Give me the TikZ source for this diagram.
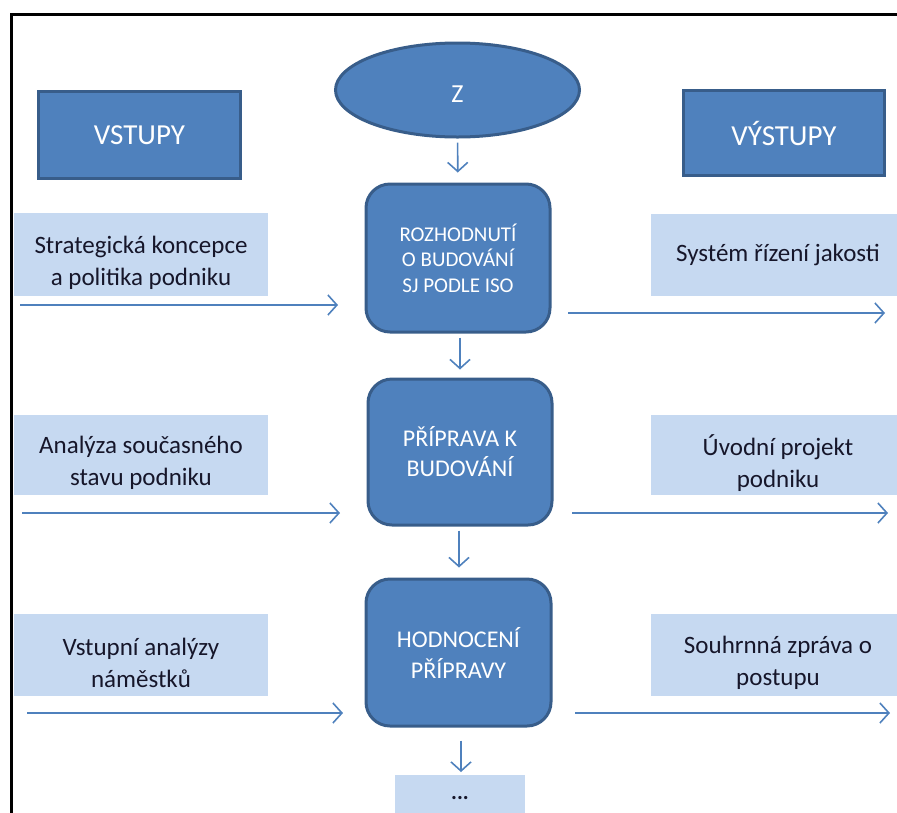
\documentclass[tikz,border=0pt]{standalone}
\usepackage{fontspec}
\setmainfont{Carlito}
\usetikzlibrary{shapes.geometric,arrows.meta}
\definecolor{accent}{HTML}{4F81BD}
\definecolor{accentdark}{HTML}{385D8A}
\definecolor{pale}{HTML}{C6D9F1}
\definecolor{ink}{HTML}{16162A}
\tikzset{
  darkbox/.style={draw=accentdark, line width=3pt, fill=accent, text=white,
    align=center, inner sep=0pt},
  headbox/.style={darkbox, rectangle, font=\fontsize{29}{33}\selectfont},
  stagebox/.style={darkbox, rectangle, rounded corners=24pt},
  palebox/.style={fill=pale, draw=none, text=ink, align=center, inner sep=0pt,
    font=\fontsize{25}{32}\selectfont},
  paletext/.style={text=ink, align=center, inner sep=0pt,
    font=\fontsize{25}{32}\selectfont, yshift=-8pt},
  flow/.style={draw=accent, line width=1.6pt,
    -{Straight Barb[length=9pt,width=20pt,line width=1.6pt]}},
}
\begin{document}
\begin{tikzpicture}[x=1pt,y=-1pt]
\useasboundingbox (0,0) rectangle (897,812);

% outer frame (only its left and top edges fall inside the page)
\coordinate (frameBL) at (11,830);
\coordinate (frameTL) at (11,14);
\coordinate (frameTR) at (910,14);
\draw[black, line width=3pt] (frameBL) -- (frameTL) -- (frameTR);

% headings and start
\node[darkbox, ellipse, minimum width=244pt, minimum height=94pt,
  label={[text=white, inner sep=0pt, font=\fontsize{26}{30}\selectfont,
    yshift=-4pt]center:Z}] (z) at (457.5,90) {};
\node[headbox, minimum width=202pt, minimum height=87pt] (vstupy) at (139.5,135) {VSTUPY};
\node[headbox, minimum width=201pt, minimum height=85pt] (vystupy) at (784,133) {VÝSTUPY};

% process stages
\node[stagebox, minimum width=184pt, minimum height=148pt,
  font=\fontsize{21}{25.5}\selectfont] (s1) at (458,258)
  {ROZHODNUTÍ\\O BUDOVÁNÍ\\SJ PODLE ISO};
\node[stagebox, minimum width=184pt, minimum height=146pt,
  font=\fontsize{24}{30}\selectfont] (s2) at (460,452)
  {PŘÍPRAVA K\\BUDOVÁNÍ};
\node[stagebox, minimum width=185pt, minimum height=147pt,
  font=\fontsize{24}{31}\selectfont] (s3) at (458.5,652.5)
  {HODNOCENÍ\\PŘÍPRAVY};
\node[palebox, minimum width=130pt, minimum height=60pt, anchor=north,
  label={[text=ink, inner sep=0pt, font=\fontsize{22}{24}\selectfont\bfseries,
    yshift=7pt]center:...}] (s4) at (460,775) {};

% inputs
\node[palebox, minimum width=254pt, minimum height=83pt,
  label={[paletext]center:Strategická koncepce\\a politika podniku}] (in1) at (141,254.5) {};
\node[palebox, minimum width=254pt, minimum height=80pt,
  label={[paletext]center:Analýza současného\\stavu podniku}] (in2) at (141,455) {};
\node[palebox, minimum width=254pt, minimum height=82pt,
  label={[paletext]center:Vstupní analýzy\\náměstků}] (in3) at (141,655) {};

% outputs
\node[palebox, minimum width=254pt, minimum height=82pt] (out1) at (778,255)
  {Systém řízení jakosti};
\node[palebox, minimum width=254pt, minimum height=80pt,
  label={[paletext]center:Úvodní projekt\\podniku}] (out2) at (778,455) {};
\node[palebox, minimum width=254pt, minimum height=82pt,
  label={[paletext]center:Souhrnná zpráva o\\postupu}] (out3) at (778,655) {};

% main flow
\draw[flow, shorten <=4pt, shorten >=10pt] (z) -- (s1);
\draw[flow, shorten <=4pt, shorten >=8pt] (s1.south -| 460,0) -- (s2.north);
\draw[flow, shorten <=4pt, shorten >=10pt] (s2.south -| 459,0) -- (s3.north -| 459,0);
\draw[flow, shorten <=13pt, shorten >=3pt] (s3.south -| 461,0) -- (s4.north -| 461,0);

% input arrows
\coordinate (a1s) at (20,305);  \coordinate (a1e) at (338,305);
\coordinate (a2s) at (22,513);  \coordinate (a2e) at (340,513);
\coordinate (a3s) at (27,713);  \coordinate (a3e) at (343,713);
\draw[flow] (a1s) -- (a1e);
\draw[flow] (a2s) -- (a2e);
\draw[flow] (a3s) -- (a3e);

% output arrows
\coordinate (b1s) at (568,313); \coordinate (b1e) at (885,313);
\coordinate (b2s) at (572,513); \coordinate (b2e) at (888,513);
\coordinate (b3s) at (575,713); \coordinate (b3e) at (890,713);
\draw[flow] (b1s) -- (b1e);
\draw[flow] (b2s) -- (b2e);
\draw[flow] (b3s) -- (b3e);
\end{tikzpicture}
\end{document}
